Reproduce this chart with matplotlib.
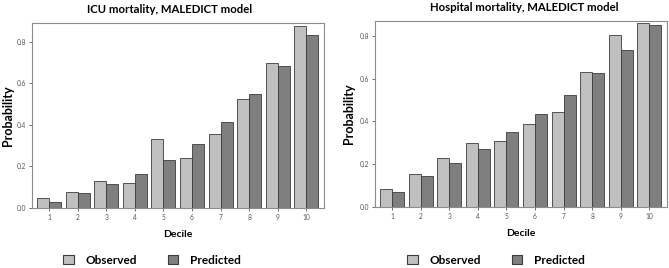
import matplotlib
matplotlib.use("Agg")
import matplotlib.pyplot as plt
from matplotlib.patches import Patch
import numpy as np

# Decile calibration data
deciles = ["1", "2", "3", "4", "5", "6", "7", "8", "9", "10"]
icu_observed = [0.046, 0.075, 0.131, 0.118, 0.334, 0.240, 0.358, 0.522, 0.696, 0.877]
icu_predicted = [0.027, 0.070, 0.114, 0.163, 0.229, 0.310, 0.416, 0.549, 0.685, 0.830]
hosp_observed = [0.086, 0.154, 0.230, 0.299, 0.308, 0.386, 0.445, 0.633, 0.803, 0.859]
hosp_predicted = [0.072, 0.145, 0.205, 0.269, 0.349, 0.433, 0.524, 0.627, 0.735, 0.850]

OBS_COLOR = "#c0c0c0"
PRED_COLOR = "#7f7f7f"
EDGE = "#3c3c3c"
FRAME = "#8c8c8c"

plt.rcParams["font.family"] = ["Lato", "DejaVu Sans"]

fig = plt.figure(figsize=(6.69, 2.68), dpi=100)
fig.patch.set_facecolor("white")

# title, observed, predicted, axes rect, y max, x of y-label, legend centre x, title x
panels = [
    ("ICU mortality, MALEDICT model", icu_observed, icu_predicted,
     [32 / 669, 1 - 208 / 268, 292 / 669, 185 / 268], 0.89, 2 / 669, 152 / 669, 0.47),
    ("Hospital mortality, MALEDICT model", hosp_observed, hosp_predicted,
     [375 / 669, 1 - 207 / 268, 292 / 669, 186 / 268], 0.87, 343 / 669, 496 / 669, 0.51),
]

x = np.arange(len(deciles))
w = 0.42

for title, obs, pred, rect, ymax, ylab_x, leg_x, title_x in panels:
    ax = fig.add_axes(rect)
    ax.bar(x - w / 2, obs, width=w, color=OBS_COLOR, edgecolor=EDGE, linewidth=0.6)
    ax.bar(x + w / 2, pred, width=w, color=PRED_COLOR, edgecolor=EDGE, linewidth=0.6)
    ax.set_xlim(-0.6, 9.62)
    ax.set_ylim(0, ymax)
    ax.set_xticks(x)
    ax.set_xticklabels(deciles)
    ax.set_yticks([0, 0.2, 0.4, 0.6, 0.8])
    ax.set_yticklabels(["0.0", "0.2", "0.4", "0.6", "0.8"])
    ax.tick_params(axis="both", labelsize=4.8, colors="#555555", length=2.5,
                   width=0.6, pad=2)
    for s in ax.spines.values():
        s.set_color(FRAME)
        s.set_linewidth(0.8)
    ax.set_title(title, fontsize=8.2, fontweight="bold", pad=7, x=title_x)
    ax.set_xlabel("Decile", fontsize=7.5, fontweight="bold", labelpad=6)
    fig.text(ylab_x, rect[1] + rect[3] / 2, "Probability", rotation=90,
             fontsize=9, fontweight="bold", ha="left", va="center")
    handles = [Patch(facecolor=OBS_COLOR, edgecolor=EDGE, linewidth=0.8),
               Patch(facecolor=PRED_COLOR, edgecolor=EDGE, linewidth=0.8)]
    fig.legend(handles, ["Observed", "Predicted"], loc="center",
               bbox_to_anchor=(leg_x, 1 - 260 / 268), ncol=2, frameon=False,
               handlelength=0.9, handleheight=0.9, columnspacing=2.6,
               handletextpad=1.0, borderpad=0, prop={"size": 8.5, "weight": "bold"})

fig.savefig("out.png", dpi=100, facecolor="white")
plt.close(fig)
